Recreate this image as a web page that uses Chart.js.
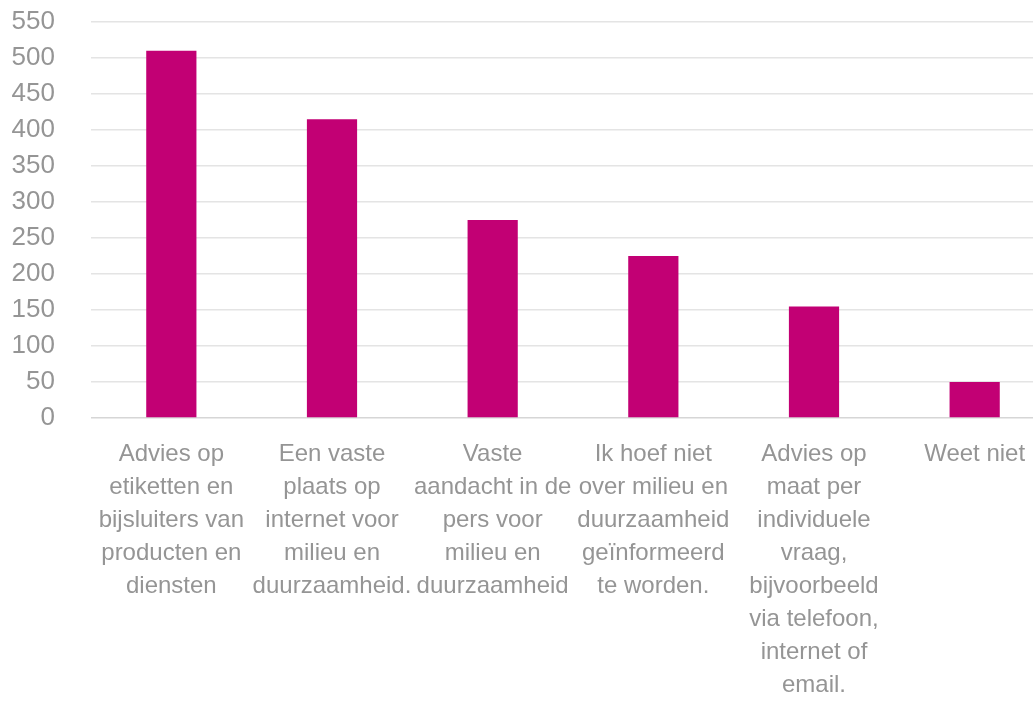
<!DOCTYPE html>
<html>
<head>
<meta charset="utf-8">
<script src="https://cdn.jsdelivr.net/npm/chart.js@4/dist/chart.umd.min.js"></script>
<style>
  html, body { margin: 0; padding: 0; background: #fff; overflow: hidden; }
  #wrap { width: 1055px; height: 703px; }
</style>
</head>
<body>
<div id="wrap"><canvas id="chart" width="1055" height="703"></canvas></div>
<script>
// categories (pre-wrapped the way they show under the axis)
var categories = [
  ['Advies op', 'etiketten en', 'bijsluiters van', 'producten en', 'diensten'],
  ['Een vaste', 'plaats op', 'internet voor', 'milieu en', 'duurzaamheid.'],
  ['Vaste', 'aandacht in de', 'pers voor', 'milieu en', 'duurzaamheid'],
  ['Ik hoef niet', 'over milieu en', 'duurzaamheid', 'geïnformeerd', 'te worden.'],
  ['Advies op', 'maat per', 'individuele', 'vraag,', 'bijvoorbeeld', 'via telefoon,', 'internet of', 'email.'],
  ['Weet niet']
];
var counts = [510, 415, 275, 225, 155, 50];
var yMin = 0, yMax = 550, yStep = 50;

var grey = '#959595';
var fontFamily = "'Liberation Sans', Arial, sans-serif";

var ctx = document.getElementById('chart');
var myChart = new Chart(ctx, {
  type: 'bar',
  data: {
    labels: categories,
    datasets: [{
      data: counts,
      backgroundColor: '#c20074',
      borderWidth: 0,
      categoryPercentage: 1,
      barPercentage: 0.3125
    }]
  },
  options: {
    responsive: false,
    animation: false,
    layout: { padding: { top: 22, left: 0, right: 0, bottom: 0 } },
    plugins: {
      legend: { display: false },
      tooltip: { enabled: false }
    },
    scales: {
      x: {
        grid: { display: false, drawTicks: false },
        border: { display: false },
        ticks: {
          color: grey,
          maxRotation: 0,
          autoSkip: false,
          padding: 20,
          font: { family: fontFamily, size: 24, lineHeight: 1.375 }
        },
        afterFit: function(scale) { scale.height = 285; }
      },
      y: {
        min: yMin,
        max: yMax,
        grid: {
          drawTicks: false,
          lineWidth: 1.5,
          color: function(c) { return c.tick && c.tick.value === 0 ? '#d6d6d6' : '#e4e4e4'; }
        },
        border: { display: false },
        ticks: {
          stepSize: yStep,
          autoSkip: false,
          color: grey,
          padding: 36,
          font: { family: fontFamily, size: 26 }
        },
        afterFit: function(scale) {
          scale.width = 91;
          // top label has room in the layout padding already
          scale.paddingTop = 0;
          scale.paddingBottom = 0;
        }
      }
    }
  }
});
</script>
</body>
</html>
